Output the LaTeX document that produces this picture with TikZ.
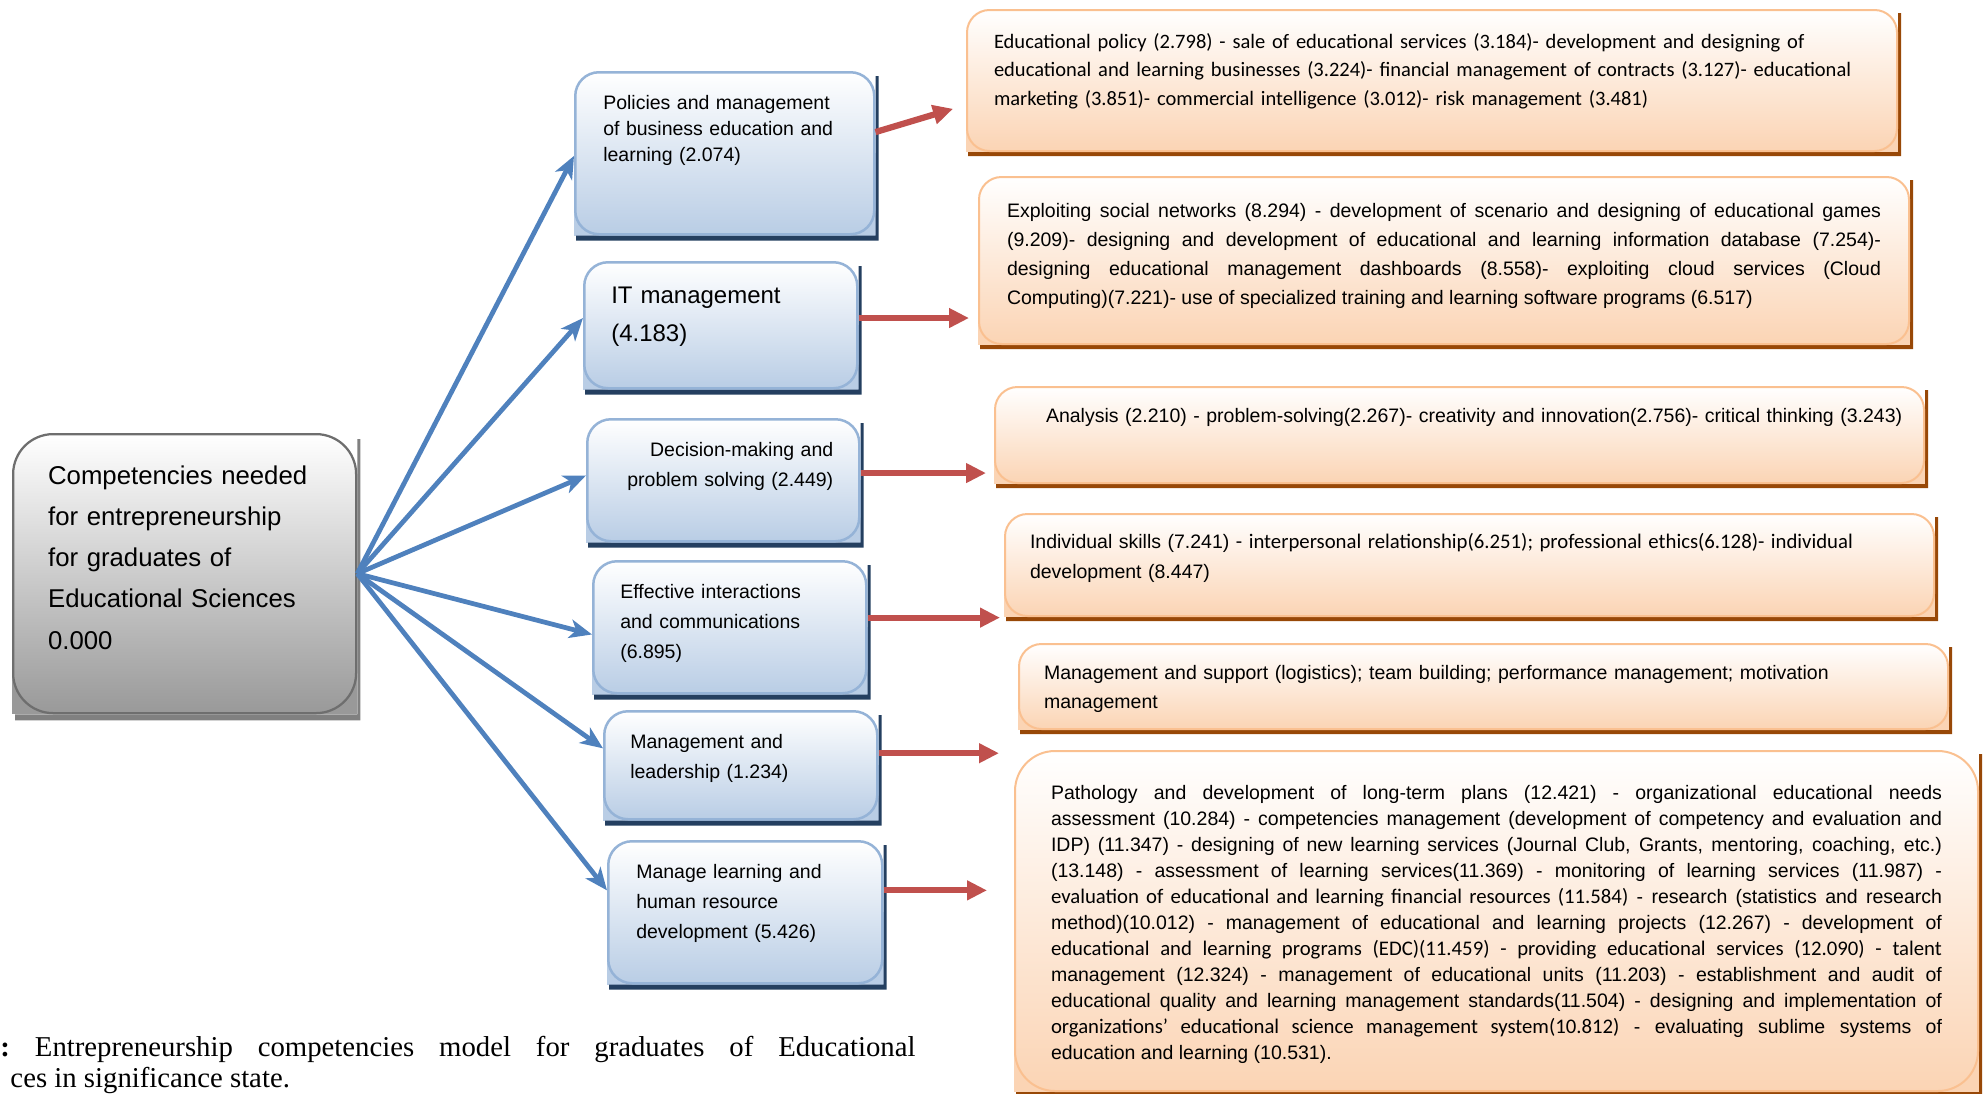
\documentclass[tikz,border=0pt]{standalone}
\usepackage{fontspec}
\setmainfont{Liberation Sans}
\newfontfamily\calibrifont{Carlito}
\newfontfamily\timesfont{Liberation Serif}
\usetikzlibrary{arrows.meta,backgrounds,calc}

\newlength{\unitpx}
\setlength{\unitpx}{0.4pt}
\newcommand{\calibripart}[1]{{\calibrifont\fontsize{8.3pt}{\the\baselineskip}\selectfont #1}}
\definecolor{arrowblue}{HTML}{4F81BD}
\definecolor{arrowred}{HTML}{C0504D}
\definecolor{blueedge}{HTML}{95B3D7}
\definecolor{bluefill}{HTML}{B9CDE5}
\definecolor{blueshadow}{HTML}{243F60}
\definecolor{orangeedge}{HTML}{FAC090}
\definecolor{orangefill}{HTML}{FBD4B4}
\definecolor{orangeshadow}{HTML}{984807}
\definecolor{greyedge}{HTML}{6E6E6E}
\definecolor{greyfill}{HTML}{999999}
\definecolor{greyshadow}{HTML}{808080}

\tikzset{
  boxbase/.style={anchor=north west, inner ysep=0pt, align=left},
  rootbox/.style={boxbase, draw=greyedge, line width=0.9pt, top color=white, bottom color=greyfill,
    rounded corners=16pt, font=\fontsize{10.3}{16.5}\selectfont},
  compbox/.style={boxbase, draw=blueedge, line width=1pt, top color=white, bottom color=bluefill,
    rounded corners=9.5pt, font=\fontsize{7.8}{12}\selectfont},
  infobox/.style={boxbase, draw=orangeedge, line width=0.8pt, top color=white, bottom color=orangefill,
    rounded corners=9pt, font=\fontsize{7.8}{11.6}\selectfont},
  bluearrow/.style={arrowblue, line width=1.9pt, -{Stealth[length=9pt, width=7.5pt, inset=2.5pt]}},
  redarrow/.style={arrowred, line width=2.5pt, -{Triangle[length=8pt, width=7.5pt]}},
}

\begin{document}
\begin{tikzpicture}[x=\unitpx, y=-\unitpx]
  \useasboundingbox (0,0) rectangle (1984,1093);

  % === ROOT ===
  \node[rootbox, inner xsep=35\unitpx, text width=273\unitpx, text height=50\unitpx, text depth=229\unitpx]
    (root) at (12,433) {Competencies needed\\for entrepreneurship\\for graduates of\\Educational Sciences\\0.000};

  % === COMPETENCIES ===
  \node[compbox, inner xsep=28\unitpx, text width=243\unitpx, text height=37\unitpx, text depth=125\unitpx,
    font=\fontsize{7.8}{10.4}\selectfont]
    (policy) at (574,71) {Policies and management\\of business education and\\learning (2.074)};
  \node[compbox, inner xsep=27\unitpx, text width=219\unitpx, text height=41\unitpx, text depth=85\unitpx,
    font=\fontsize{9.6}{15.2}\selectfont]
    (itmgmt) at (583,261) {IT management\\(4.183)};
  \node[compbox, align=right, inner xsep=26\unitpx, text width=220\unitpx, text height=37\unitpx, text depth=85\unitpx]
    (decision) at (586,418) {Decision-making and\\problem solving (2.449)};
  \node[compbox, inner xsep=27\unitpx, text width=219\unitpx, text height=37\unitpx, text depth=95\unitpx]
    (interact) at (592,560) {Effective interactions\\and communications\\(6.895)};
  \node[compbox, inner xsep=26\unitpx, text width=221\unitpx, text height=37\unitpx, text depth=71\unitpx]
    (leader) at (603,710) {Management and\\leadership (1.234)};
  \node[compbox, inner xsep=28\unitpx, text width=218\unitpx, text height=37\unitpx, text depth=105\unitpx]
    (hrdev) at (607,840) {Manage learning and\\human resource\\development (5.426)};

  % === DETAILS ===
  \node[infobox, inner xsep=27\unitpx, text width=876\unitpx, text height=38\unitpx, text depth=103\unitpx,
    font=\calibrifont\fontsize{8.2}{11.4}\selectfont]
    (policyinfo) at (966,9) {Educational policy (2.798) - sale of educational services (3.184)- development and designing of\\
    educational and learning businesses (3.224)- financial management of contracts (3.127)- educational\\
    marketing (3.851)- commercial intelligence (3.012)- risk management (3.481)};
  \node[infobox, align=justify, inner xsep=28\unitpx, text width=874\unitpx, text height=40\unitpx, text depth=127\unitpx]
    (itinfo) at (978,176) {Exploiting social networks (8.294) - development of scenario and designing of educational games\linebreak
    (9.209)- designing and development of educational and learning information database (7.254)-\linebreak
    designing educational management dashboards (8.558)- exploiting cloud services (Cloud\linebreak
    Computing)(7.221)- use of specialized training and learning software programs (6.517)};
  \node[infobox, inner xsep=12\unitpx, text width=905\unitpx, text height=35\unitpx, text depth=61\unitpx]
    (decisioninfo) at (994,386) {\kern15.6pt Analysis (2.210) - problem-solving(2.267)- creativity and innovation(2.756)- critical thinking (3.243)};
  \node[infobox, inner xsep=25\unitpx, text width=879\unitpx, text height=34\unitpx, text depth=68\unitpx,
    font=\fontsize{7.8}{12}\selectfont]
    (interactinfo) at (1004,513) {Individual skills (7.241) \calibripart{- interpersonal relationship(6.251); professional ethics(6.128)- individual}\\development (8.447)};
  \node[infobox, inner xsep=25\unitpx, text width=879\unitpx, text height=35\unitpx, text depth=50\unitpx]
    (leaderinfo) at (1018,643) {Management and support (logistics); team building; performance management; motivation\\management};
  \node[infobox, align=justify, rounded corners=16pt, inner xsep=36\unitpx, text width=891\unitpx, text height=48\unitpx,
    text depth=292\unitpx, font=\fontsize{7.8}{10.4}\selectfont]
    (hrinfo) at (1014,750) {Pathology and development of long-term plans (12.421) - organizational educational needs\linebreak
    assessment (10.284) - competencies management (development of competency and evaluation and\linebreak
    IDP) (11.347) - designing of new learning services (Journal Club, Grants, mentoring, coaching, etc.)\linebreak
    (13.148) - assessment of learning services(11.369) - monitoring of learning services (11.987) -\linebreak
    \calibripart{evaluation of educational and learning financial resources (11.584)} - research (statistics and research\linebreak
    method)(10.012) - management of educational and learning projects (12.267) - development of\linebreak
    \calibripart{educational and learning programs (EDC)(11.459) - providing educational services (12.090) - talent}\linebreak
    management (12.324) - management of educational units (11.203) - establishment and audit of\linebreak
    educational quality and learning management standards(11.504) - designing and implementation of\linebreak
    \calibripart{organizations’ educational science management system(10.812)} - evaluating sublime systems of\linebreak
    education and learning (10.531).};

  % shadows and square lower corners
  \begin{scope}[on background layer]
    \fill[greyfill] (root.west) rectangle (root.south east);
    \fill[greyshadow] ($(root.north east)+(0,6)$) -- ++(3,0) |- ($(root.south west)+(3,6)$) -- ++(0,-6) -| ($(root.north east)+(0,6)$) -- cycle;
    \foreach \n in {policy,itmgmt,decision,interact,leader,hrdev} {
      \fill[bluefill] (\n.west) rectangle (\n.south east);
      \fill[blueshadow] ($(\n.north east)+(0,5)$) -- ++(3,0) |- ($(\n.south west)+(2,5)$) -- ++(0,-5) -| ($(\n.north east)+(0,5)$) -- cycle;
    }
    \foreach \n in {policyinfo,itinfo,decisioninfo,interactinfo,leaderinfo,hrinfo} {
      \fill[orangefill] (\n.west) rectangle (\n.south east);
      \fill[orangeshadow] ($(\n.north east)+(0,4)$) -- ++(3,0) |- ($(\n.south west)+(2,4)$) -- ++(0,-4) -| ($(\n.north east)+(0,4)$) -- cycle;
    }
  \end{scope}

  % === ARROWS ===
  \foreach \n/\a in {policy/181, itmgmt/177, decision/178, interact/183, leader/173, hrdev/171}
    \draw[bluearrow] (root.east) -- (\n.\a);

  \draw[redarrow, shorten >=5.4pt] (policy.8) -- (policyinfo.183);
  \draw[redarrow, shorten >=3.6pt] (itmgmt.3) -- (itmgmt.3 -| itinfo.west);
  \draw[redarrow, shorten >=3.2pt] (decision.3) -- (decision.3 -| decisioninfo.west);
  \draw[redarrow, shorten >=1.6pt] (interact.4) -- (interact.4 -| interactinfo.west);
  \draw[redarrow, shorten >=7.6pt] (leader.5) -- (leader.5 -| leaderinfo.west);
  \draw[redarrow, shorten >=10.8pt] (hrdev.9) -- (hrdev.9 -| hrinfo.west);

  % === CAPTION ===
  \node[anchor=north west, inner sep=0pt, text width=915\unitpx, align=justify,
    font=\timesfont\fontsize{11.5}{12.4}\selectfont\frenchspacing]
    (caption) at (0,1036) {\textbf{:} Entrepreneurship competencies model for graduates of Educational\linebreak
    \mbox{}\kern4pt ces in significance state.};
\end{tikzpicture}
\end{document}
